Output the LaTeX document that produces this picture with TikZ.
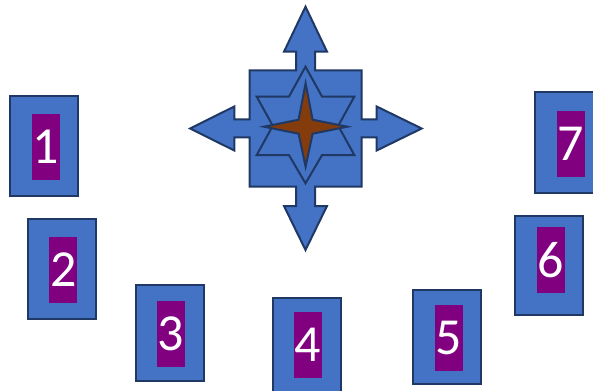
\documentclass[tikz,border=0pt]{standalone}
\usepackage{fontspec}
\setmainfont{Carlito}
\definecolor{cardblue}{RGB}{68,114,196}
\definecolor{cardline}{RGB}{31,56,100}
\definecolor{cardpurple}{RGB}{128,0,128}
\definecolor{starbrown}{RGB}{132,60,12}

\begin{document}
\begin{tikzpicture}[x=1pt, y=-1pt,
    card/.style={draw=cardline, fill=cardblue, line width=2pt,
        minimum width=68pt, inner sep=0pt},
    num/.style={fill=cardpurple, text=white, minimum width=28pt,
        minimum height=66pt, inner sep=0pt,
        font=\fontsize{52}{52}\selectfont},
    emblem/.style={draw=cardline, line width=2pt, line join=miter}]
                \useasboundingbox (0,0) rectangle (593,390);
                % the seven cards
                    \foreach \n/\cx/\cy/\h/\px/\py in {1/43.8/146/100/46/147,
                        2/62.2/269.2/100/63.3/270, 3/169.5/333/96/171/333.7,
                        4/307.2/347.7/100/307.8/344.7, 5/447.3/337/94/448.8/337.5,
                        6/548.7/265.3/99/551/260.2, 7/568.5/142.8/101/570.8/143.7} {
                        \node[card, minimum height=\h pt] (card\n) at (\cx, \cy) {};
                        \node[num] (num\n) at (\px, \py) {\n};
                    }
                % square with four arrows
                \draw[emblem, fill=cardblue] (249.5,70.5) -- (296,70.5) -- (296,51.7)
                    -- (284,51.7) -- (305.5,6.7) -- (327,51.7) -- (315,51.7) -- (315,70.5)
                    -- (361.5,70.5) -- (361.5,119.5) -- (376.7,119.5) -- (376.7,106.5)
                    -- (421.7,128.5) -- (376.7,150.5) -- (376.7,137.5) -- (361.5,137.5)
                    -- (361.5,186.5) -- (315,186.5) -- (315,206) -- (327,206)
                    -- (305.5,250) -- (284,206) -- (296,206) -- (296,186.5)
                    -- (249.5,186.5) -- (249.5,137.5) -- (234.3,137.5) -- (234.3,150.5)
                    -- (190,128.5) -- (234.3,106.5) -- (234.3,119.5) -- (249.5,119.5) -- cycle;
                % six-pointed star
                \draw[emblem, fill=cardblue] (305.5,66.7) -- (322.1,96.7) -- (354.3,96.7)
                    -- (338.2,125.8) -- (354.3,155) -- (322.1,155) -- (305.5,183.3)
                    -- (288.9,155) -- (256.7,155) -- (272.8,125.8) -- (256.7,96.7)
                    -- (288.9,96.7) -- cycle;
                % four-pointed star
                \draw[emblem, fill=starbrown] (305.6,83.3) -- (312.6,119.7) -- (347.3,126.7)
                    -- (312.6,133.7) -- (305.6,166.7) -- (298.6,133.7) -- (264,126.7)
                    -- (298.6,119.7) -- cycle;
            \end{tikzpicture}
\end{document}
